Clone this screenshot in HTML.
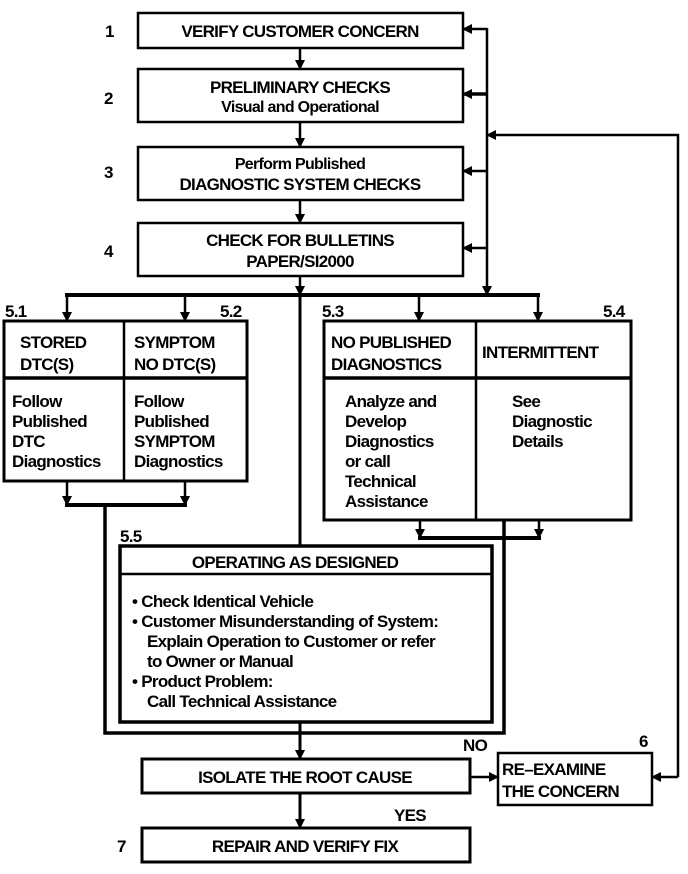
<!DOCTYPE html>
<html><head><meta charset="utf-8"><style>
html,body{margin:0;padding:0;background:#fff;}
svg{display:block;}
text{font-family:"Liberation Sans",Arial,sans-serif;font-weight:bold;font-size:17px;fill:#000;letter-spacing:-0.7px;}
</style></head><body>
<svg width="688" height="874" viewBox="0 0 688 874" xmlns="http://www.w3.org/2000/svg">
<defs>
<marker id="a" markerWidth="10" markerHeight="10" refX="9" refY="5" orient="auto" markerUnits="userSpaceOnUse">
<path d="M0,0 L10,5 L0,10 z" fill="#000"/></marker>
</defs>
<g fill="none" stroke="#000" stroke-width="2.5">
<rect x="138" y="13" width="325" height="35"/>
<rect x="138" y="69" width="325" height="53"/>
<rect x="138" y="147" width="325" height="53"/>
<rect x="138" y="223" width="325" height="53"/>
<rect x="4" y="321" width="243" height="160" stroke-width="3"/>
<line x1="4" y1="378" x2="247" y2="378" stroke-width="3.5"/>
<line x1="124" y1="321" x2="124" y2="481"/>
<rect x="324" y="321" width="307" height="199" stroke-width="3"/>
<line x1="324" y1="378" x2="631" y2="378" stroke-width="3.5"/>
<line x1="476" y1="321" x2="476" y2="520"/>
<rect x="120" y="546" width="372" height="176" stroke-width="3.5"/>
<line x1="120" y1="574" x2="492" y2="574"/>
<polyline points="105,505 105,733 504,733 504,520" stroke-width="3.5"/>
<rect x="142" y="759" width="328" height="34" stroke-width="3"/>
<rect x="142" y="828" width="328" height="34" stroke-width="3"/>
<rect x="498" y="753" width="154" height="52" stroke-width="2.5"/>
<line x1="300" y1="48" x2="300" y2="69" marker-end="url(#a)"/>
<line x1="300" y1="122" x2="300" y2="147" marker-end="url(#a)"/>
<line x1="300" y1="200" x2="300" y2="223" marker-end="url(#a)"/>
<line x1="300" y1="276" x2="300" y2="295" marker-end="url(#a)"/>
<line x1="300" y1="295" x2="300" y2="546" stroke-width="3"/>
<line x1="300" y1="722" x2="300" y2="759" marker-end="url(#a)" stroke-width="3"/>
<line x1="300" y1="793" x2="300" y2="828" marker-end="url(#a)" stroke-width="3"/>
<line x1="470" y1="777" x2="498" y2="777" marker-end="url(#a)"/>
<line x1="65" y1="295" x2="540" y2="295" stroke-width="4"/>
<line x1="67" y1="295" x2="67" y2="321" marker-end="url(#a)"/>
<line x1="185" y1="295" x2="185" y2="321" marker-end="url(#a)"/>
<line x1="419" y1="295" x2="419" y2="321" marker-end="url(#a)"/>
<line x1="538" y1="295" x2="538" y2="321" marker-end="url(#a)"/>
<line x1="487" y1="28" x2="487" y2="295" marker-end="url(#a)"/>
<line x1="487" y1="29" x2="463" y2="29" marker-end="url(#a)"/>
<line x1="487" y1="94" x2="463" y2="94" marker-end="url(#a)" stroke-width="3.5"/>
<line x1="487" y1="171" x2="463" y2="171" marker-end="url(#a)"/>
<line x1="487" y1="248" x2="463" y2="248" marker-end="url(#a)"/>
<polyline points="678,777 678,135 487,135" marker-end="url(#a)"/>
<line x1="678" y1="777" x2="652" y2="777" marker-end="url(#a)"/>
<line x1="67" y1="481" x2="67" y2="505" marker-end="url(#a)"/>
<line x1="185" y1="481" x2="185" y2="505" marker-end="url(#a)"/>
<line x1="65" y1="505" x2="187" y2="505" stroke-width="4"/>
<line x1="420" y1="520" x2="420" y2="538" marker-end="url(#a)"/>
<line x1="539" y1="520" x2="539" y2="538" marker-end="url(#a)"/>
<line x1="418" y1="538" x2="541" y2="538" stroke-width="4"/>
</g>
<g>
<text x="105" y="37">1</text><text x="104" y="104">2</text><text x="104" y="178">3</text><text x="104" y="257">4</text>
<text x="300" y="37" text-anchor="middle">VERIFY CUSTOMER CONCERN</text>
<text x="300" y="93" text-anchor="middle">PRELIMINARY CHECKS</text>
<text x="300" y="112" text-anchor="middle" style="font-size:16px">Visual and Operational</text>
<text x="300" y="169" text-anchor="middle" style="font-size:16px">Perform Published</text>
<text x="300" y="190" text-anchor="middle">DIAGNOSTIC SYSTEM CHECKS</text>
<text x="300" y="246" text-anchor="middle">CHECK FOR BULLETINS</text>
<text x="300" y="267" text-anchor="middle">PAPER/SI2000</text>
<text x="5" y="317">5.1</text><text x="220" y="317">5.2</text><text x="322" y="317">5.3</text><text x="603" y="317">5.4</text>
<text x="20" y="348">STORED</text><text x="20" y="370">DTC(S)</text>
<text x="134" y="348">SYMPTOM</text><text x="134" y="370">NO DTC(S)</text>
<text x="12" y="407">Follow</text><text x="12" y="427">Published</text><text x="12" y="447">DTC</text><text x="12" y="467">Diagnostics</text>
<text x="134" y="407">Follow</text><text x="134" y="427">Published</text><text x="134" y="447">SYMPTOM</text><text x="134" y="467">Diagnostics</text>
<text x="331" y="348">NO PUBLISHED</text><text x="331" y="370">DIAGNOSTICS</text>
<text x="482" y="358">INTERMITTENT</text>
<text x="345" y="407">Analyze and</text><text x="345" y="427">Develop</text><text x="345" y="447">Diagnostics</text><text x="345" y="467">or call</text><text x="345" y="487">Technical</text><text x="345" y="507">Assistance</text>
<text x="512" y="407">See</text><text x="512" y="427">Diagnostic</text><text x="512" y="447">Details</text>
<text x="120" y="542">5.5</text>
<text x="295" y="568" text-anchor="middle">OPERATING AS DESIGNED</text>
<text x="132" y="607">• Check Identical Vehicle</text>
<text x="132" y="627">• Customer Misunderstanding of System:</text>
<text x="147" y="647">Explain Operation to Customer or refer</text>
<text x="147" y="667">to Owner or Manual</text>
<text x="132" y="687">• Product Problem:</text>
<text x="147" y="707">Call Technical Assistance</text>
<text x="463" y="751">NO</text><text x="639" y="747">6</text>
<text x="305" y="783" text-anchor="middle">ISOLATE THE ROOT CAUSE</text>
<text x="502" y="775">RE–EXAMINE</text><text x="502" y="797">THE CONCERN</text>
<text x="394" y="821">YES</text>
<text x="117" y="852">7</text>
<text x="305" y="852" text-anchor="middle">REPAIR AND VERIFY FIX</text>
</g>
</svg>
</body></html>
